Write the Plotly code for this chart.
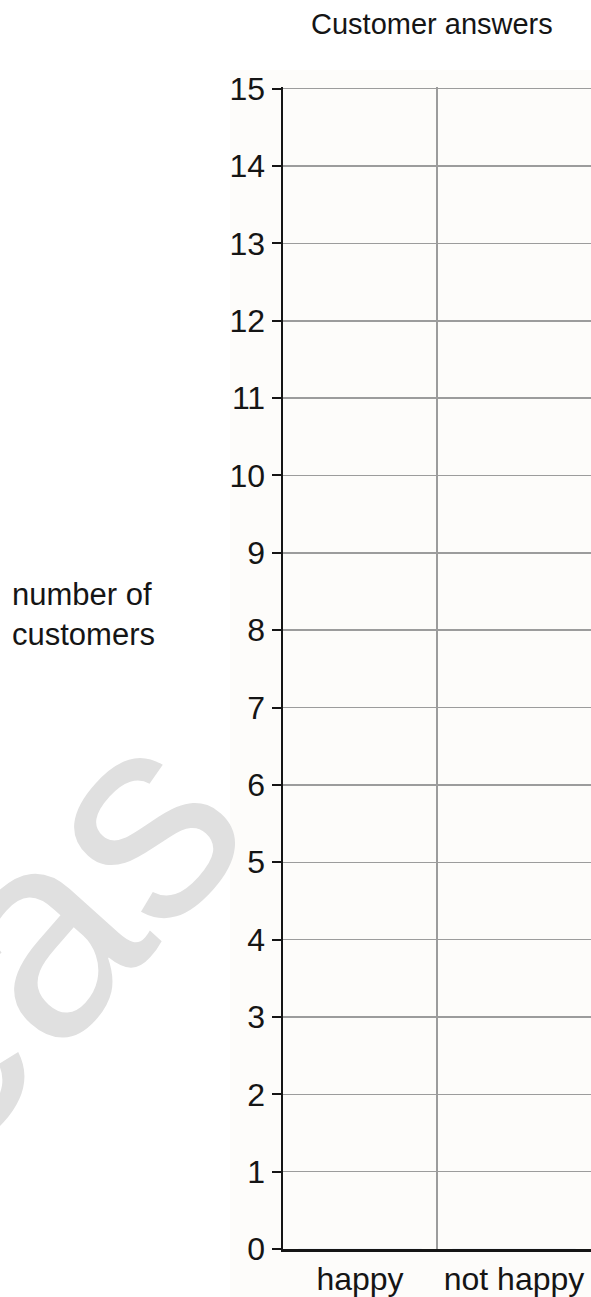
import plotly.graph_objects as go

# ---- data ----
categories = ["happy", "not happy"]
values = [0, 0]                      # empty chart to be filled in
y_ticks = list(range(0, 16))         # 0 .. 15
title_text = "Customer answers"
y_title = "number of<br>customers"
watermark = "eas"

FONT = "Liberation Sans, Arial, Helvetica, sans-serif"
TXT = "#151515"
GRID = "#9c9c9c"
CREAM = "#fdfcfa"

W, H = 591, 1297
# plot area in screen pixels
PX0, PX1, PY0, PY1 = 283, 591, 87, 1249
L, R, T, B = PX0, W - PX1, PY0, H - PY1
plot_w = W - L - R
plot_h = H - T - B

def sx(px):
    """screen x pixel -> paper x"""
    return (px - PX0) / plot_w

def sy(py):
    """screen y pixel -> paper y"""
    return (PY1 - py) / plot_h

xpos = list(range(len(categories)))
boundaries = [i + 0.5 for i in xpos[:-1]]
ytop = max(y_ticks)

fig = go.Figure()
fig.add_trace(go.Bar(x=xpos, y=values, marker_color="#808080",
                     hoverinfo="skip", showlegend=False))

fig.update_layout(
    width=W, height=H,
    margin=dict(l=L, r=R, t=T, b=B),
    paper_bgcolor="white",
    plot_bgcolor=CREAM,
    font=dict(family=FONT, color=TXT, size=32),
    showlegend=False,
)

fig.update_xaxes(
    range=[-0.5, len(categories) - 0.5],
    tickmode="array", tickvals=xpos, ticktext=categories,
    ticks="", showgrid=False, zeroline=False,
    showline=True, linecolor=TXT, linewidth=2.5,
    tickfont=dict(size=32, color=TXT, family=FONT),
    minor=dict(tickmode="array", tickvals=boundaries, showgrid=True,
               gridcolor=GRID, gridwidth=1.5, ticks=""),
    fixedrange=True,
)

fig.update_yaxes(
    range=[0, ytop * 1.0015],
    tickmode="array", tickvals=y_ticks,
    ticks="outside", ticklen=9, tickwidth=2, tickcolor=TXT,
    showline=True, linecolor=TXT, linewidth=2.5,
    showgrid=True, gridcolor=GRID, gridwidth=1.5,
    zeroline=False,
    tickfont=dict(size=32, color=TXT, family=FONT),
    fixedrange=True,
)

# cream backdrop of the original chart image
fig.add_shape(type="rect", xref="paper", yref="paper",
              x0=sx(230), x1=1.02, y0=sy(H + 5), y1=sy(70),
              fillcolor=CREAM, line=dict(width=0), layer="below")

# title
fig.add_annotation(text=title_text, xref="paper", yref="paper",
                   x=sx(432), y=sy(24), xanchor="center", yanchor="middle",
                   showarrow=False,
                   font=dict(family=FONT, size=29, color=TXT))

# faint watermark
fig.add_annotation(text=watermark, xref="paper", yref="paper",
                   x=sx(28), y=sy(940), xanchor="center", yanchor="middle",
                   showarrow=False, textangle=-48,
                   font=dict(family=FONT, size=290, color="#e0e0e0"))

# y-axis title (horizontal, two lines, left of the axis)
fig.add_annotation(text=y_title, xref="paper", yref="paper",
                   x=sx(10), y=sy(614), xanchor="left", yanchor="middle",
                   align="left", showarrow=False,
                   font=dict(family=FONT, size=31, color=TXT))

fig.write_html(
    "out.html",
    config={"displayModeBar": False, "staticPlot": True},
    post_script=("document.body.style.margin='0';"
                 "document.documentElement.style.overflow='hidden';"
                 "document.body.style.overflow='hidden';"),
)
